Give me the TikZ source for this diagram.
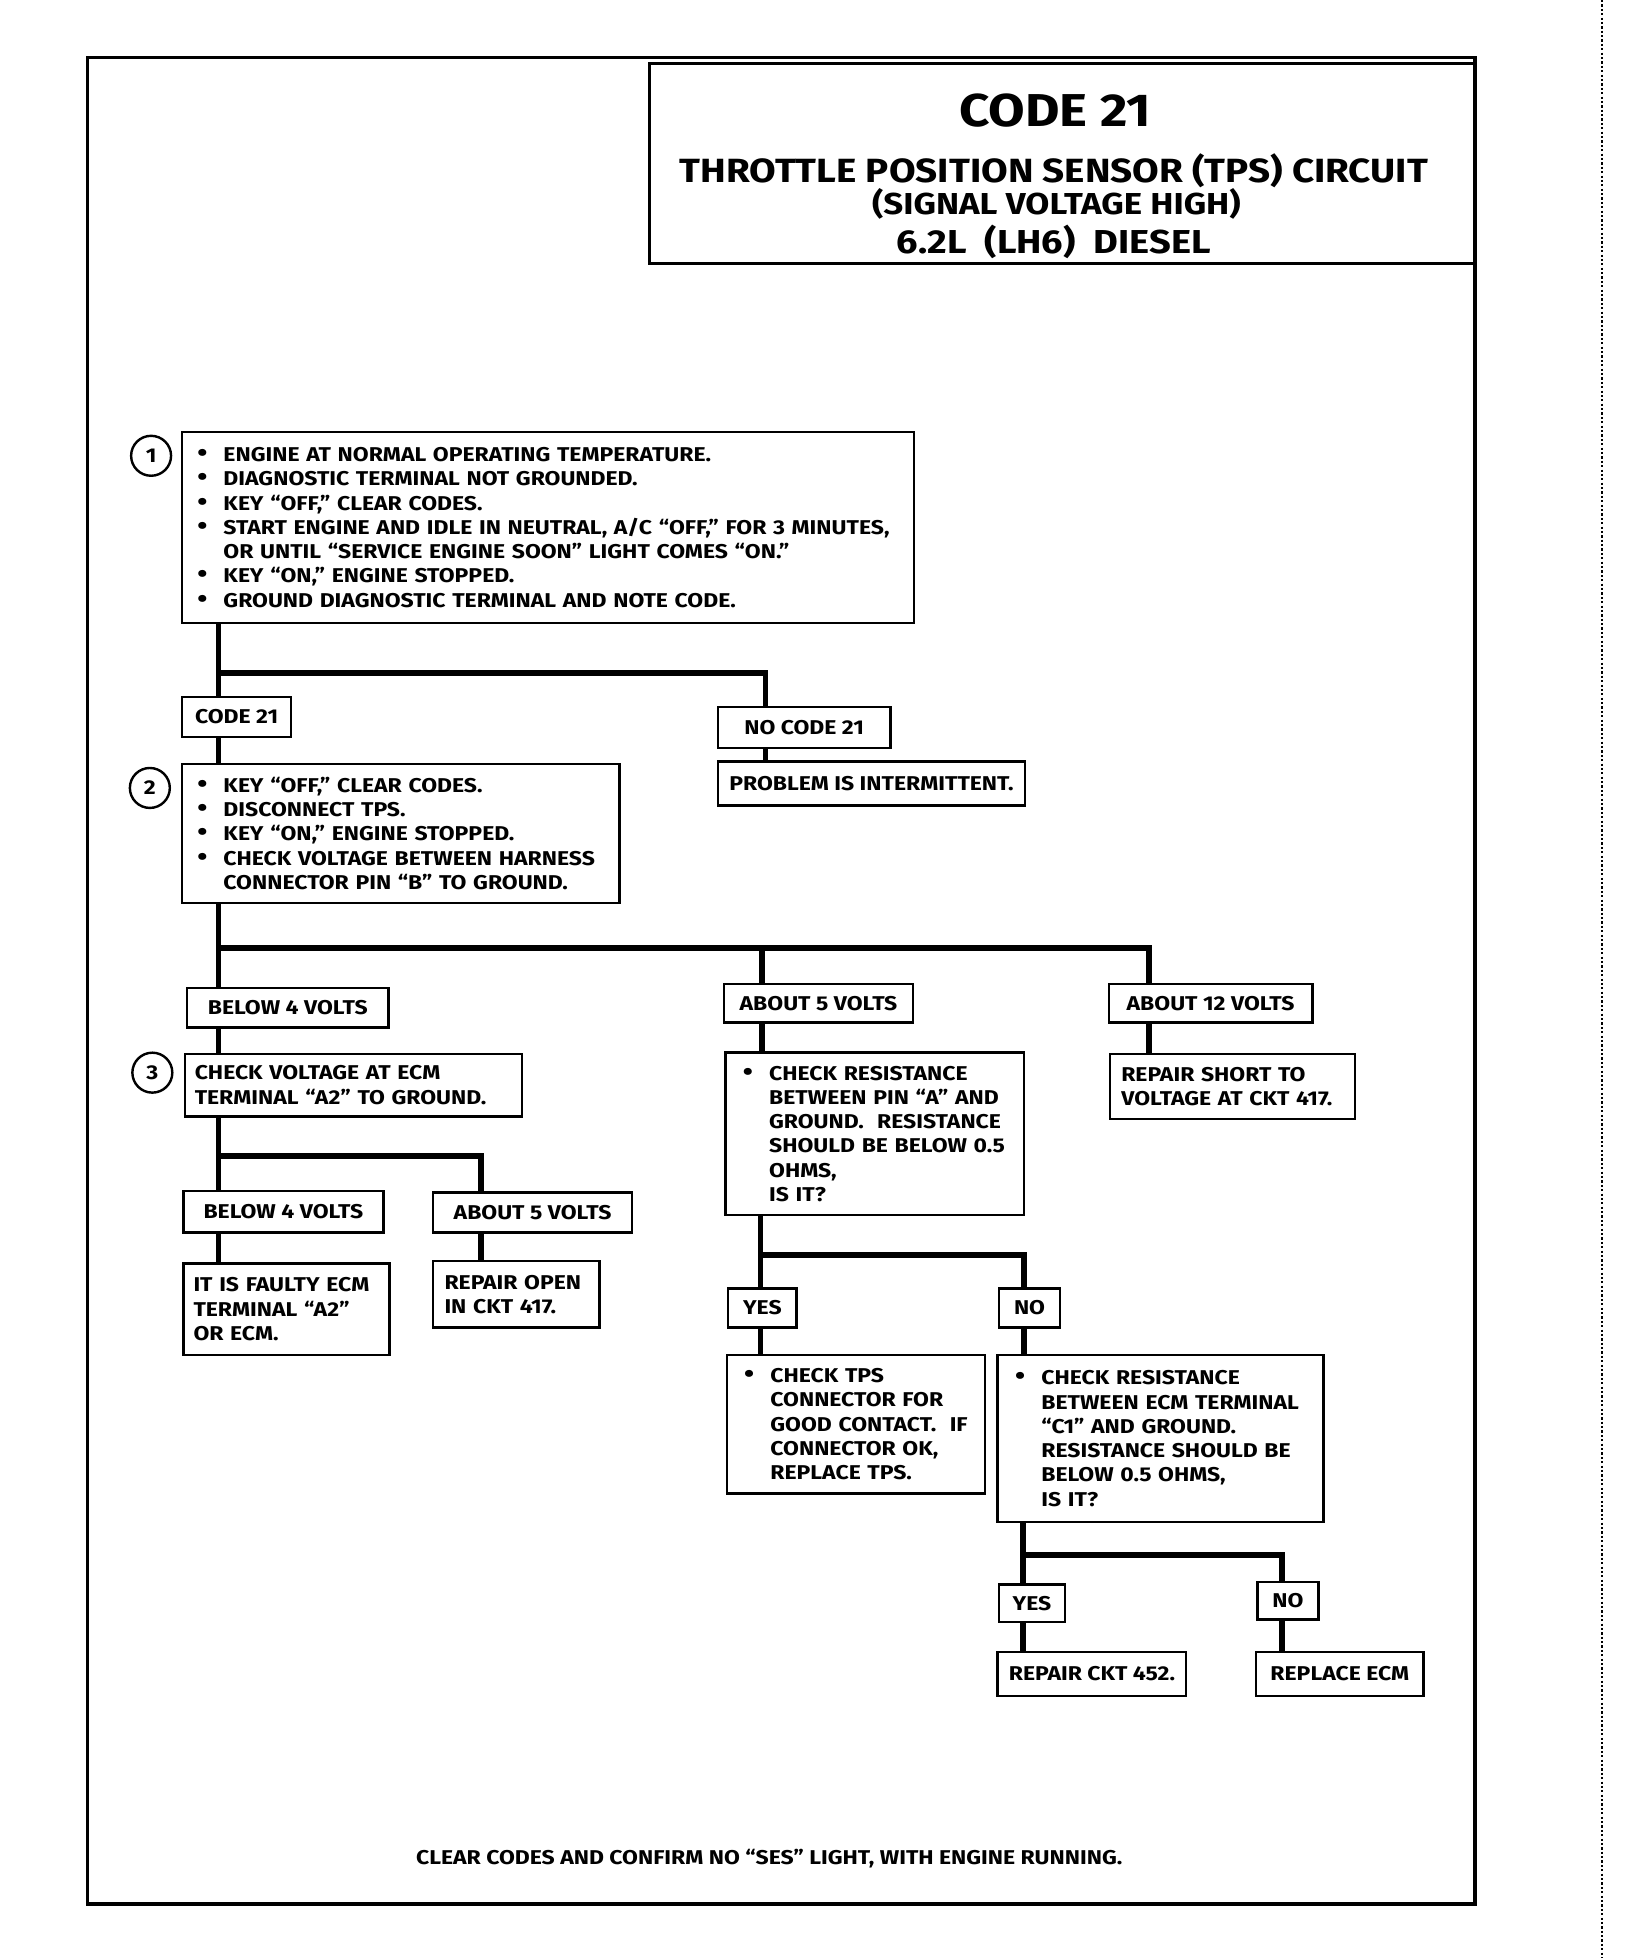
\documentclass[tikz,border=0pt]{standalone}
\usepackage{fontspec}
\setmainfont{Fira Sans}[FakeStretch=1.15]
\usepackage{tikz}
\usetikzlibrary{positioning}
\newdimen\px \px=0.02cm
\newcommand{\bodyfont}{\fontsize{9.1}{11.05}\selectfont\bfseries}
\newcommand{\itm}{\makebox[21\px][l]{\fontsize{11.5}{11.05}\selectfont\textbullet}}
\newcommand{\cnt}{\hspace*{21\px}}
\tikzstyle{wire} = [line width=2.7pt]
\tikzstyle{frame} = [line width=1.7pt]
\tikzstyle{box} = [draw, line width=1.1pt, anchor=north west, align=left, inner ysep=0pt]
\tikzstyle{tag} = [draw, line width=1.1pt, anchor=north west, inner sep=0pt]
\tikzstyle{num} = [draw, circle, line width=1.1pt, inner sep=0pt, minimum size=32\px]

\begin{document}
\begin{tikzpicture}[x=0.02cm, y=-0.02cm, font=\bodyfont]
        \useasboundingbox (0,0) rectangle (1307,1568);
        % page
        \draw[frame] (70,46) rectangle (1181,1525);
        \draw[line width=0.6pt, dash pattern=on 1pt off 1pt] (1283,0) -- (1283,1568);
        % title
        \draw[line width=1.3pt] (520,51) rectangle (1181,211);
        \node[anchor=base, font=\fontsize{21}{23}\selectfont\bfseries] (code) at (845,101) {CODE 21};
        \node[anchor=base, font=\fontsize{15.3}{17}\selectfont\bfseries] (tps) at (844,146) {THROTTLE POSITION SENSOR (TPS) CIRCUIT};
        \node[anchor=base, font=\fontsize{13.8}{15}\selectfont\bfseries] (sig) at (846,172) {(SIGNAL VOLTAGE HIGH)};
        \node[anchor=base, font=\fontsize{15.1}{17}\selectfont\bfseries] (eng) at (844,203) {6.2L\ \ (LH6)\ \ DIESEL};
        % step 1
        \node[num] (n1) at (121,365) {1};
        \node[box, inner xsep=12\px, text width=562\px, minimum height=153\px] (s1) at (145,345)
            {\itm ENGINE AT NORMAL OPERATING TEMPERATURE.\\
             \itm DIAGNOSTIC TERMINAL NOT GROUNDED.\\
             \itm KEY “OFF,” CLEAR CODES.\\
             \itm START ENGINE AND IDLE IN NEUTRAL, A/C “OFF,” FOR 3 MINUTES,\\
             \cnt OR UNTIL “SERVICE ENGINE SOON” LIGHT COMES “ON.”\\
             \itm KEY “ON,” ENGINE STOPPED.\\
             \itm GROUND DIAGNOSTIC TERMINAL AND NOTE CODE.};
        \node[tag, minimum width=87\px, minimum height=32\px] (c21) at (145,557) {CODE 21};
        \node[tag, minimum width=138\px, minimum height=33\px] (nc21) at (574,565) {NO CODE 21};
        \node[tag, minimum width=246\px, minimum height=35\px] (intm) at (574,609) {PROBLEM IS INTERMITTENT.};
        % step 2
        \node[num] (n2) at (120,631) {2};
        \node[box, inner xsep=12\px, text width=326\px, minimum height=111\px] (s2) at (145,611)
            {\itm KEY “OFF,” CLEAR CODES.\\
             \itm DISCONNECT TPS.\\
             \itm KEY “ON,” ENGINE STOPPED.\\
             \itm CHECK VOLTAGE BETWEEN HARNESS\\
             \cnt CONNECTOR PIN “B” TO GROUND.};
        \node[tag, minimum width=161\px, minimum height=32\px] (lo) at (149,790) {BELOW 4 VOLTS};
        \node[tag, minimum width=151\px, minimum height=31\px] (mid) at (579,787) {ABOUT 5 VOLTS};
        \node[tag, minimum width=163\px, minimum height=31\px] (hi) at (887,787) {ABOUT 12 VOLTS};
        % step 3
        \node[num] (n3) at (122,859) {3};
        \node[box, inner xsep=8\px, text width=254\px, minimum height=50\px] (s3) at (147,843)
            {CHECK VOLTAGE AT ECM\\ TERMINAL “A2” TO GROUND.};
        \node[box, inner xsep=14\px, text width=211\px, minimum height=130\px] (res) at (580,842)
            {\itm CHECK RESISTANCE\\
             \cnt BETWEEN PIN “A” AND\\
             \cnt GROUND.\ \ RESISTANCE\\
             \cnt SHOULD BE BELOW 0.5\\
             \cnt OHMS,\\
             \cnt IS IT?};
        \node[box, inner xsep=9\px, text width=178\px, minimum height=52\px] (shrt) at (888,843)
            {REPAIR SHORT TO\\ VOLTAGE AT CKT 417.};
        \node[tag, minimum width=160\px, minimum height=33\px] (lo2) at (146,953) {BELOW 4 VOLTS};
        \node[tag, minimum width=159\px, minimum height=32\px] (mid2) at (346,954) {ABOUT 5 VOLTS};
        \node[box, inner xsep=8\px, text width=149\px, minimum height=73\px] (flt) at (146,1011)
            {IT IS FAULTY ECM\\ TERMINAL “A2”\\ OR ECM.};
        \node[box, inner xsep=9\px, text width=115\px, minimum height=53\px] (opn) at (346,1009)
            {REPAIR OPEN\\ IN CKT 417.};
        % resistance checks
        \node[tag, minimum width=55\px, minimum height=31\px] (y1) at (582,1031) {YES};
        \node[tag, minimum width=49\px, minimum height=31\px] (no1) at (799,1031) {NO};
        \node[box, inner xsep=14\px, text width=179\px, minimum height=111\px] (con) at (581,1084)
            {\itm CHECK TPS\\
             \cnt CONNECTOR FOR\\
             \cnt GOOD CONTACT.\ \ IF\\
             \cnt CONNECTOR OK,\\
             \cnt REPLACE TPS.};
        \node[box, inner xsep=14\px, text width=233\px, minimum height=134\px] (ecm) at (798,1084)
            {\itm CHECK RESISTANCE\\
             \cnt BETWEEN ECM TERMINAL\\
             \cnt “C1” AND GROUND.\\
             \cnt RESISTANCE SHOULD BE\\
             \cnt BELOW 0.5 OHMS,\\
             \cnt IS IT?};
        \node[tag, minimum width=53\px, minimum height=30\px] (y2) at (799,1268) {YES};
        \node[tag, minimum width=49\px, minimum height=30\px] (no2) at (1006,1266) {NO};
        \node[tag, minimum width=151\px, minimum height=35\px] (ckt) at (798,1322) {REPAIR CKT 452.};
        \node[tag, minimum width=134\px, minimum height=35\px] (rep) at (1005,1322) {REPLACE ECM};
        \node[font=\fontsize{9.1}{11}\selectfont\bfseries] (note) at (616,1488)
            {CLEAR CODES AND CONFIRM NO “SES” LIGHT, WITH ENGINE RUNNING.};
        % links
        \coordinate (j1) at (175,539);
        \coordinate (k1) at (613,539);
        \draw[wire] (s1.south -| j1) -- (c21.north -| j1);
        \draw[wire] (c21.south -| j1) -- (s2.north -| j1);
        \draw[wire] (j1) -- (k1) -- (nc21.north -| k1);
        \draw[wire] (nc21.south -| k1) -- (intm.north -| k1);
        \coordinate (j2) at (175,759);
        \coordinate (k2) at (610,759);
        \coordinate (m2) at (920,759);
        \draw[wire] (s2.south -| j2) -- (lo.north -| j2);
        \draw[wire] (lo.south -| j2) -- (s3.north -| j2);
        \draw[wire] (j2) -- (m2) -- (hi.north -| m2);
        \draw[wire] (k2) -- (mid.north -| k2);
        \draw[wire] (mid.south -| k2) -- (res.north -| k2);
        \draw[wire] (hi.south -| m2) -- (shrt.north -| m2);
        \coordinate (j3) at (175,926);
        \coordinate (k3) at (385,926);
        \draw[wire] (s3.south -| j3) -- (lo2.north -| j3);
        \draw[wire] (j3) -- (k3) -- (mid2.north -| k3);
        \draw[wire] (lo2.south -| j3) -- (flt.north -| j3);
        \draw[wire] (mid2.south -| k3) -- (opn.north -| k3);
        \coordinate (j4) at (609,1005);
        \coordinate (k4) at (820,1005);
        \draw[wire] (res.south -| j4) -- (y1.north -| j4);
        \draw[wire] (j4) -- (k4) -- (no1.north -| k4);
        \draw[wire] (y1.south -| j4) -- (con.north -| j4);
        \draw[wire] (no1.south -| k4) -- (ecm.north -| k4);
        \coordinate (j5) at (819,1245);
        \coordinate (k5) at (1027,1245);
        \draw[wire] (ecm.south -| j5) -- (y2.north -| j5);
        \draw[wire] (j5) -- (k5) -- (no2.north -| k5);
        \draw[wire] (y2.south -| j5) -- (ckt.north -| j5);
        \draw[wire] (no2.south -| k5) -- (rep.north -| k5);
    \end{tikzpicture}
\end{document}
